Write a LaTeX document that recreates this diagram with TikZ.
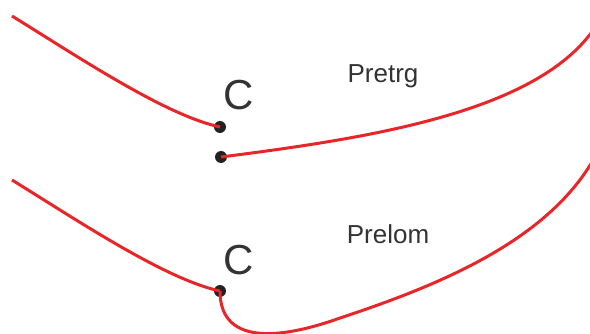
\documentclass[tikz,border=0pt]{standalone}
\usepackage{fontspec}
\setmainfont{Liberation Sans}
\begin{document}
\begin{tikzpicture}[x=1pt,y=-1pt,
  curve/.style={draw={rgb,255:red,232;green,38;blue,42}, line width=3pt},
  joint/.style={circle, fill={rgb,255:red,34;green,34;blue,34}, inner sep=0pt, minimum size=12pt},
  letter/.style={text={rgb,255:red,51;green,51;blue,51}, font=\fontsize{42}{42}\selectfont, inner sep=0pt, anchor=base},
  caption/.style={text={rgb,255:red,51;green,51;blue,51}, font=\fontsize{26}{26}\selectfont, inner sep=0pt, anchor=base}]
\useasboundingbox (0,0) rectangle (590,334);
\clip (0,0) rectangle (590,334);

% upper sketch: broken bar
\coordinate (ua) at (12,16);
\coordinate (ub) at (596,26);
\node[joint] (u1) at (220,127) {};
\node[joint] (u2) at (221,157) {};
\draw[curve] (ua) .. controls (80,58) and (165,115) .. (u1.center);
\draw[curve] (u2.center) .. controls (370,138) and (540,112) .. (ub);
\node[letter] (uc) at (239,110) {C};
\node[caption] (ut) at (383,83) {Pretrg};

% lower sketch: bent bar
\coordinate (la) at (12,180);
\coordinate (lb) at (596,155);
\node[joint] (l1) at (220,291) {};
\draw[curve] (la) .. controls (80,222) and (165,279) .. (l1.center);
\draw[curve] (l1.center) .. controls (220,350) and (290,336) .. (340,318)
  .. controls (440,285) and (550,240) .. (lb);
\node[letter] (lc) at (239,275) {C};
\node[caption] (lt) at (388,244) {Prelom};
\end{tikzpicture}
\end{document}
